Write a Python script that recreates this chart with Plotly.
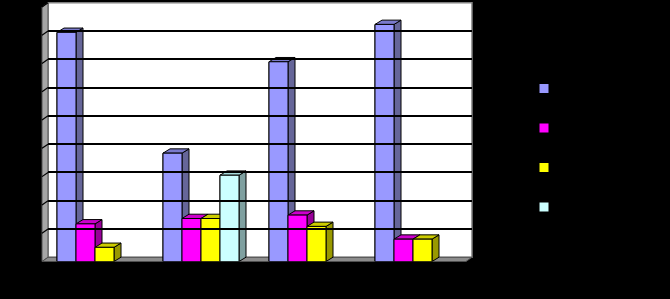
import plotly.graph_objects as go

# ---- data ----
categories = ["1", "2", "3", "4"]
series_names = ["Series 1", "Series 2", "Series 3", "Series 4"]
s1 = [8.10, 3.83, 7.06, 8.38]
s2 = [1.33, 1.52, 1.64, 0.79]
s3 = [0.50, 1.52, 1.24, 0.79]
s4 = [None, 3.05, None, None]
series_values = [s1, s2, s3, s4]

front_colors = ["#9999ff", "#ff00ff", "#ffff00", "#ccffff"]
side_colors = ["#666699", "#990099", "#999900", "#7fa0a0"]
top_colors = ["#7a7acc", "#cc00cc", "#cccc00", "#a8dcdc"]

W, H = 670, 299
def X(px):
    return px / W
def Y(py):
    return 1 - py / H

# front plane geometry (pixels)
fx0, fx1 = 42, 466
fy0 = 261.5
unit_px = 28.29
ymax = 9
fy1 = fy0 - ymax * unit_px
ddx, ddy = 6, 4.2  # depth offset (px)

bargap = 0.283
nser = 4
w = 1 - bargap
bw = w / nser
xunit_px = (fx1 - fx0) / len(categories)
dx = 7 / xunit_px
dy = 4.3 / unit_px

fig = go.Figure()

# flat bars (front faces) through the library's bar layout
for s, vals in enumerate(series_values):
    fig.add_trace(go.Bar(x=list(range(len(categories))), y=vals, name=series_names[s],
                         marker=dict(color=front_colors[s], line=dict(color="black", width=1)),
                         showlegend=False))

# 3-D faces derived from the same values, drawn in depth order
for s, vals in enumerate(series_values):
    sx, sy, tx, ty, fxs, fys = [], [], [], [], [], []
    for i, v in enumerate(vals):
        if v is None:
            continue
        left = i - w / 2 + s * bw
        right = left + bw
        sx += [right, right + dx, right + dx, right, right, None]
        sy += [0, dy, v + dy, v, 0, None]
        tx += [left, left + dx, right + dx, right, left, None]
        ty += [v, v + dy, v + dy, v, v, None]
        fxs += [left, left, right, right, left, None]
        fys += [0, v, v, 0, 0, None]
    for xs, ys, col in ((sx, sy, side_colors[s]), (tx, ty, top_colors[s]), (fxs, fys, front_colors[s])):
        fig.add_trace(go.Scatter(x=xs, y=ys, fill="toself", fillcolor=col,
                                 mode="lines", line=dict(color="black", width=1),
                                 showlegend=False, hoverinfo="skip"))

# legend-only entries
for s in range(nser):
    fig.add_trace(go.Scatter(x=[None], y=[None], mode="markers", name=series_names[s],
                             legendgroup=f"g{s}",
                             marker=dict(symbol="square", size=9, color=front_colors[s],
                                         line=dict(width=0))))

# invisible trace on back-wall axes to make them show
fig.add_trace(go.Scatter(x=[None], y=[None], xaxis="x2", yaxis="y2", showlegend=False))

shapes = []
# back wall
shapes.append(dict(type="rect", xref="x2 domain", yref="y2 domain", x0=0, x1=1, y0=0, y1=1,
                   fillcolor="white", line=dict(color="#808080", width=1.5), layer="below"))
# left wall
shapes.append(dict(type="path", xref="paper", yref="paper",
                   path=f"M{X(fx0)},{Y(fy0)} L{X(fx0)},{Y(fy1)} L{X(fx0+ddx)},{Y(fy1-ddy)} L{X(fx0+ddx)},{Y(fy0-ddy)} Z",
                   fillcolor="#a6a6a6", line=dict(color="#505050", width=1), layer="below"))
# gridlines continuing across the left wall
for k in range(1, ymax + 1):
    shapes.append(dict(type="line", xref="paper", yref="paper",
                       x0=X(fx0), y0=Y(fy0 - k * unit_px),
                       x1=X(fx0 + ddx), y1=Y(fy0 - ddy - k * unit_px),
                       line=dict(color="black", width=1.2), layer="below"))
# floor
shapes.append(dict(type="path", xref="paper", yref="paper",
                   path=f"M{X(fx0)},{Y(fy0)} L{X(fx1)},{Y(fy0)} L{X(fx1+ddx)},{Y(fy0-ddy)} L{X(fx0+ddx)},{Y(fy0-ddy)} Z",
                   fillcolor="#8c8c8c", line=dict(color="#505050", width=1), layer="below"))

fig.update_layout(
    width=W, height=H, autosize=False,
    margin=dict(l=0, r=0, t=0, b=0, autoexpand=False),
    paper_bgcolor="black", plot_bgcolor="rgba(0,0,0,0)",
    barmode="group", bargap=bargap, bargroupgap=0,
    shapes=shapes,
    showlegend=True,
    legend=dict(x=X(524), y=Y(74), xanchor="left", yanchor="top",
                font=dict(color="black", size=12, family="Liberation Sans"),
                tracegroupgap=20.5, traceorder="grouped", bgcolor="rgba(0,0,0,0)"),
    xaxis=dict(domain=[X(fx0), X(fx1)], range=[-0.5, 3.5], showgrid=False, zeroline=False,
               tickvals=list(range(len(categories))), ticktext=categories, automargin=False,
               tickfont=dict(color="black"), showline=False),
    yaxis=dict(domain=[Y(fy0), Y(fy1)], range=[0, ymax], showgrid=False, zeroline=False,
               dtick=1, ticks="", automargin=False, tickfont=dict(color="black"), showline=False),
    xaxis2=dict(domain=[X(fx0 + ddx), X(fx1 + ddx)], range=[-0.5, 3.5], anchor="y2",
                automargin=False,
                showgrid=False, zeroline=False, showticklabels=False, ticks=""),
    yaxis2=dict(domain=[Y(fy0 - ddy), Y(fy1 - ddy)], range=[0, ymax], anchor="x2",
                automargin=False,
                showgrid=True, gridcolor="black", gridwidth=1.5, dtick=1, zeroline=False,
                showticklabels=False, ticks=""),
)

fig.write_html("out.html")
